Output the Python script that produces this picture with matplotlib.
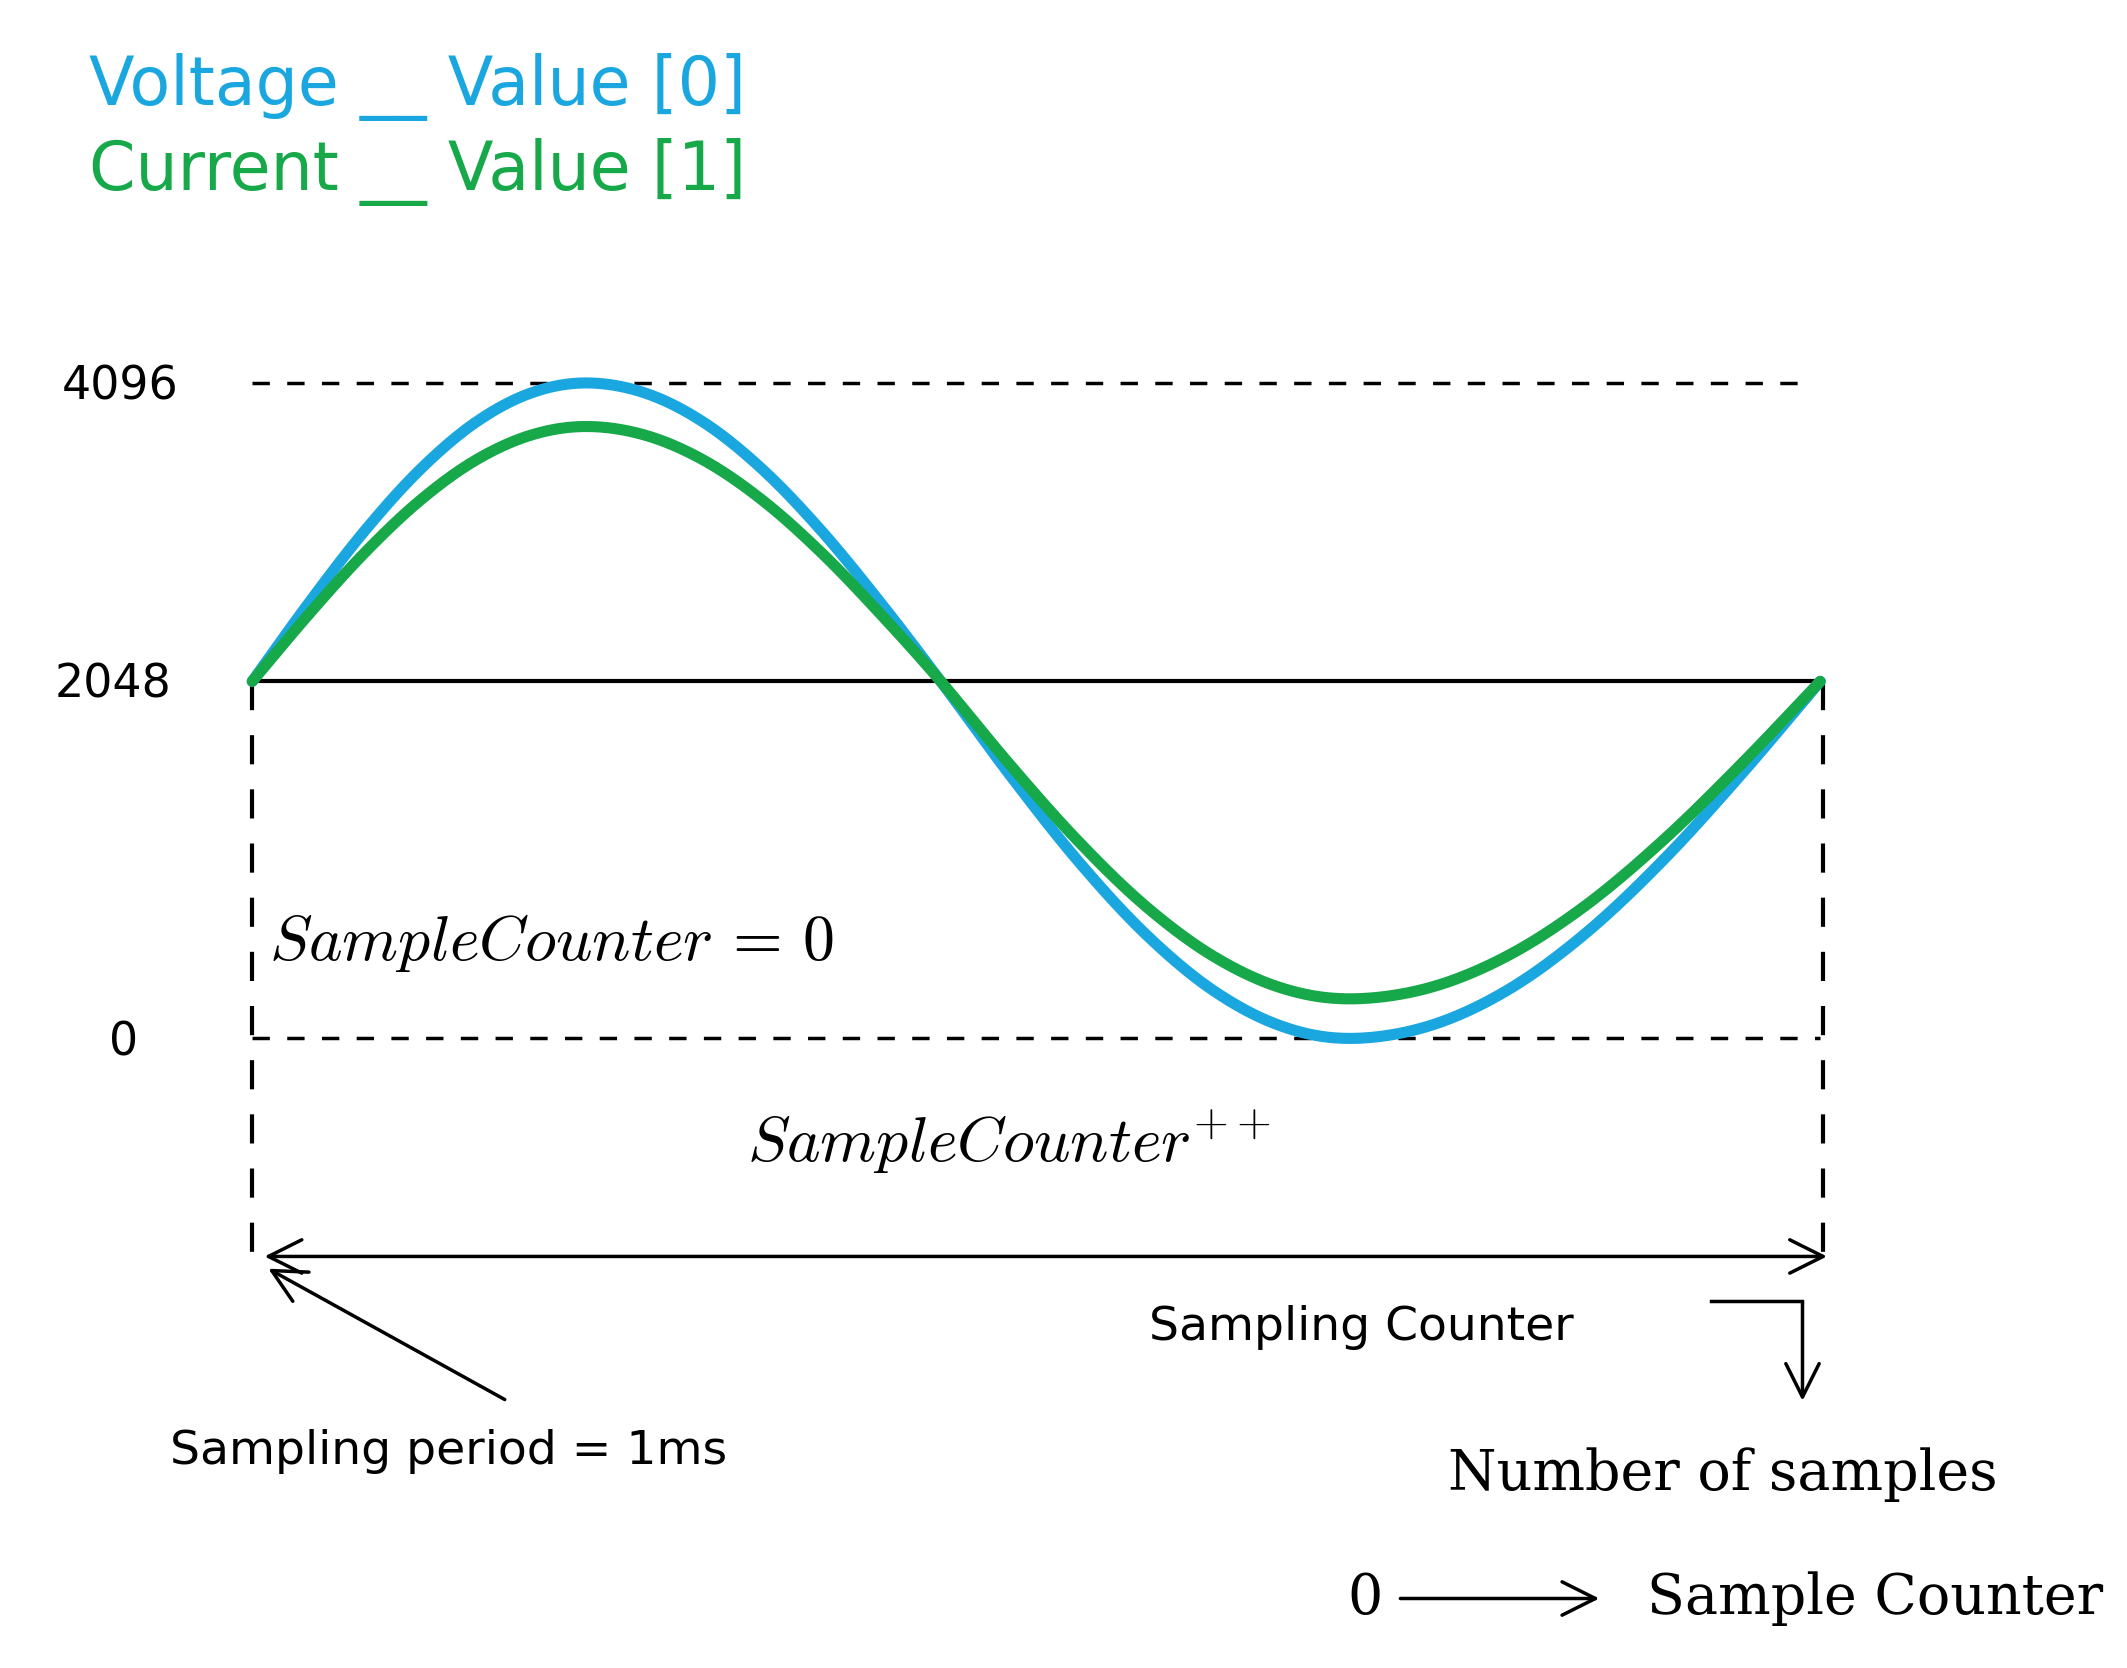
import matplotlib
matplotlib.use("Agg")
import matplotlib.pyplot as plt
import numpy as np

# data
sample_index = list(range(25))
voltage = [2048, 2578, 3072, 3496, 3822, 4026, 4096, 4026, 3822, 3496, 3072, 2578, 2048,
           1518, 1024, 600, 274, 70, 0, 70, 274, 600, 1024, 1518, 2048]
current = [2048, 2501, 2923, 3285, 3563, 3737, 3797, 3737, 3563, 3285, 2923, 2501, 2048,
           1577, 1138, 760, 471, 289, 227, 289, 471, 760, 1138, 1577, 2048]
ytick_values = [4096, 2048, 0]
ytick_labels = ["4096", "2048", "0"]

BLUE = "#1aa7e0"
GREEN = "#17a84a"

def xmap(i):
    return np.interp(i, [0, 6, 12, 18, 24], [185, 430, 690, 990, 1335])

def ymap(v):
    v = np.asarray(v, float)
    return np.where(v >= 2048, 500 - (v - 2048) / 2048 * 219, 500 + (2048 - v) / 2048 * 262)

def smooth(x, y, n=20):
    # Catmull-Rom rendering of the polyline
    x = np.asarray(x, float); y = np.asarray(y, float)
    px = np.concatenate([[2 * x[0] - x[1]], x, [2 * x[-1] - x[-2]]])
    py = np.concatenate([[2 * y[0] - y[1]], y, [2 * y[-1] - y[-2]]])
    ox, oy = [], []
    t = np.linspace(0, 1, n, endpoint=False)
    for i in range(1, len(px) - 2):
        for P, out in ((px, ox), (py, oy)):
            p0, p1, p2, p3 = P[i - 1], P[i], P[i + 1], P[i + 2]
            out.extend(0.5 * (2 * p1 + (-p0 + p2) * t + (2 * p0 - 5 * p1 + 4 * p2 - p3) * t**2
                              + (-p0 + 3 * p1 - 3 * p2 + p3) * t**3))
    ox.append(x[-1]); oy.append(y[-1])
    return ox, oy

fig = plt.figure(figsize=(21.27, 16.68), dpi=100)
ax = fig.add_axes([0, 0, 1, 1])
ax.set_xlim(0, 1560)
ax.set_ylim(1224, 0)
ax.axis("off")

sans = "DejaVu Sans"
ax.text(65, 64, "Voltage __ Value [0]", color=BLUE, fontsize=48, family=sans, va="center")
ax.text(65, 126, "Current __ Value [1]", color=GREEN, fontsize=48, family=sans, va="center")

ax.plot([185, 1330], [ymap(4096)] * 2, ls=(0, (5, 5)), color="black", lw=2.5)
ax.plot([185, 1335], [ymap(2048)] * 2, color="black", lw=3)
ax.plot([185, 1335], [ymap(0)] * 2, ls=(0, (5, 5)), color="black", lw=2.5)
ax.plot([185, 185], [500, 930], ls=(0, (7, 6)), color="black", lw=3)
ax.plot([1337, 1337], [500, 930], ls=(0, (7, 6)), color="black", lw=3)

for v, lab, x in zip(ytick_values, ytick_labels, [45, 40, 80]):
    ax.text(x, float(ymap(v)) + 3, lab, fontsize=33, family=sans, va="center")

xs = xmap(np.array(sample_index, float))
ax.plot(*smooth(xs, ymap(voltage)), color=BLUE, lw=8, solid_capstyle="round")
ax.plot(*smooth(xs, ymap(current)), color=GREEN, lw=8, solid_capstyle="round")

plt.rcParams["mathtext.fontset"] = "cm"
ax.text(197, 692, r"$SampleCounter\,=\,0$", fontsize=46, va="center")
ax.text(548, 838, r"$SampleCounter^{++}$", fontsize=46, va="center")

ax.annotate("", xy=(192, 922), xytext=(1342, 922),
            arrowprops=dict(arrowstyle="<->", lw=2.5, color="black", mutation_scale=60))
ax.annotate("", xy=(195, 930), xytext=(372, 1028),
            arrowprops=dict(arrowstyle="->", lw=2.5, color="black", mutation_scale=60))
ax.text(125, 1065, "Sampling period = 1ms", fontsize=34, family=sans, va="center")
ax.text(843, 974, "Sampling Counter", fontsize=34, family=sans, va="center")
ax.plot([1255, 1322], [955, 955], color="black", lw=2.5)
ax.annotate("", xy=(1322, 1030), xytext=(1322, 954),
            arrowprops=dict(arrowstyle="->", lw=2.5, color="black", mutation_scale=60))
ax.text(1062, 1082, "Number of samples", fontsize=40, family="DejaVu Serif", va="center")
ax.text(988, 1173, "0", fontsize=40, family="DejaVu Serif", va="center")
ax.annotate("", xy=(1175, 1173), xytext=(1025, 1173),
            arrowprops=dict(arrowstyle="->", lw=2.5, color="black", mutation_scale=60))
ax.text(1208, 1173, "Sample Counter", fontsize=40, family="DejaVu Serif", va="center")

fig.savefig("out.png", dpi=100)
